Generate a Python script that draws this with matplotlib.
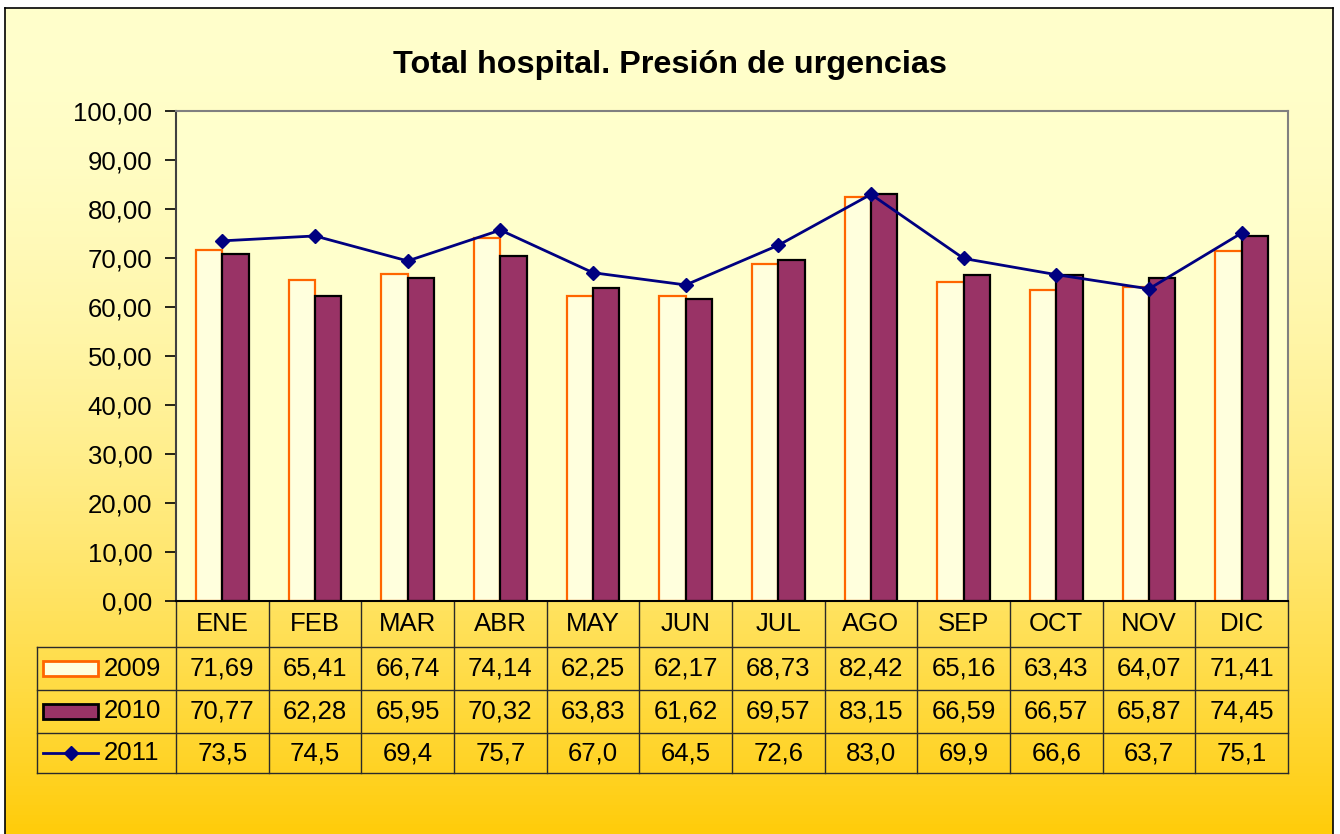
import numpy as np
import matplotlib
matplotlib.use('Agg')
import matplotlib.pyplot as plt
from matplotlib import transforms
from matplotlib.patches import Rectangle
from matplotlib.lines import Line2D

plt.rcParams['font.family'] = ['Liberation Sans', 'DejaVu Sans']

# Data
months = ['ENE', 'FEB', 'MAR', 'ABR', 'MAY', 'JUN', 'JUL', 'AGO', 'SEP', 'OCT', 'NOV', 'DIC']
series_names = ['2009', '2010', '2011']
v2009 = [71.69, 65.41, 66.74, 74.14, 62.25, 62.17, 68.73, 82.42, 65.16, 63.43, 64.07, 71.41]
v2010 = [70.77, 62.28, 65.95, 70.32, 63.83, 61.62, 69.57, 83.15, 66.59, 66.57, 65.87, 74.45]
v2011 = [73.5, 74.5, 69.4, 75.7, 67.0, 64.5, 72.6, 83.0, 69.9, 66.6, 63.7, 75.1]
yticks = list(range(0, 101, 10))

W, H = 1340, 834
fig = plt.figure(figsize=(W / 100, H / 100), dpi=100)
fig.patch.set_facecolor('white')

# Background gradient with border (open at the bottom)
bg = fig.add_axes([5 / W, 0, (1333 - 5) / W, 1 - 8 / H], zorder=0)
t = np.linspace(0, 1, 256) ** 1.8
top = np.array([255, 255, 204]) / 255
bot = np.array([255, 204, 10]) / 255
grad = top[None, :] * (1 - t[:, None]) + bot[None, :] * t[:, None]
bg.imshow(grad[:, None, :], aspect='auto', extent=[0, 1, 0, 1])
bg.set_xticks([])
bg.set_yticks([])
for s in bg.spines.values():
    s.set_color('black')
    s.set_linewidth(1.2)
bg.spines['bottom'].set_visible(False)

# Main plot area
ax = fig.add_axes([176 / W, 1 - 601 / H, (1288 - 176) / W, (601 - 111) / H], zorder=1)
ax.set_facecolor('#FFFFCC')
x = np.arange(len(months))
bw = 0.285
ax.bar(x - bw / 2, v2009, bw, color='#FFFFDD', edgecolor='#FF6600', linewidth=1.6, zorder=2)
ax.bar(x + bw / 2, v2010, bw, color='#993366', edgecolor='black', linewidth=1.6, zorder=2)
ax.plot(x, v2011, color='#000080', lw=2, marker='D', ms=7, zorder=3)

ax.set_xlim(-0.5, len(months) - 0.5)
ax.set_ylim(0, 100)
ax.set_yticks(yticks)
ax.set_yticklabels([f"{v:.2f}".replace('.', ',') for v in yticks], fontsize=18.5)
ax.set_xticks([])
ax.tick_params(axis='y', direction='out', length=8, width=1.2, pad=9, color='black')
ax.spines['left'].set_color('#404040')
ax.spines['top'].set_color('#808080')
ax.spines['right'].set_color('#808080')
ax.spines['bottom'].set_color('black')
for s in ax.spines.values():
    s.set_linewidth(1.5)

# Title
fig.text(0.5, 1 - 65 / H, 'Total hospital. Presión de urgencias', ha='center', va='center',
         fontsize=23.3, fontweight='bold')

# Data table under the axis
tr = transforms.blended_transform_factory(ax.transData, ax.transAxes)
ph = 601 - 111
rows_px = [0, 46, 89, 132, 172]
rows = [-r / ph for r in rows_px]
left = -2.0
right = len(months) - 0.5
lc = '#2a2a2a'

for i in range(len(months) + 1):
    ax.add_line(Line2D([i - 0.5, i - 0.5], [rows[0], rows[-1]], transform=tr,
                       color=lc, lw=1, clip_on=False))
ax.add_line(Line2D([left, left], [rows[1], rows[-1]], transform=tr, color=lc, lw=1, clip_on=False))
for r in rows[1:]:
    ax.add_line(Line2D([left, right], [r, r], transform=tr, color=lc, lw=1, clip_on=False))

def mid(i):
    return (rows[i] + rows[i + 1]) / 2

for i, m in enumerate(months):
    ax.text(i, mid(0), m, transform=tr, ha='center', va='center', fontsize=18.5)
    ax.text(i, mid(1), f"{v2009[i]:.2f}".replace('.', ','), transform=tr, ha='center', va='center', fontsize=18.5)
    ax.text(i, mid(2), f"{v2010[i]:.2f}".replace('.', ','), transform=tr, ha='center', va='center', fontsize=18.5)
    ax.text(i, mid(3), f"{v2011[i]:.1f}".replace('.', ','), transform=tr, ha='center', va='center', fontsize=18.5)

# Legend keys inside table
kx0, kx1 = -1.935, -1.34
kh = 15 / ph
ax.add_patch(Rectangle((kx0, mid(1) - kh / 2), kx1 - kx0, kh, transform=tr, facecolor='#FFFFDD',
                       edgecolor='#FF6600', lw=2, clip_on=False))
ax.add_patch(Rectangle((kx0, mid(2) - kh / 2), kx1 - kx0, kh, transform=tr, facecolor='#993366',
                       edgecolor='black', lw=2, clip_on=False))
ax.add_line(Line2D([kx0, kx1], [mid(3), mid(3)], transform=tr, color='#000080', lw=2, clip_on=False))
ax.add_line(Line2D([(kx0 + kx1) / 2], [mid(3)], transform=tr, color='#000080', marker='D', ms=7,
                   clip_on=False))
for j, name in enumerate(series_names):
    ax.text(-1.28, mid(j + 1), name, transform=tr, ha='left', va='center', fontsize=18.5)

fig.savefig('out.png', dpi=100)
